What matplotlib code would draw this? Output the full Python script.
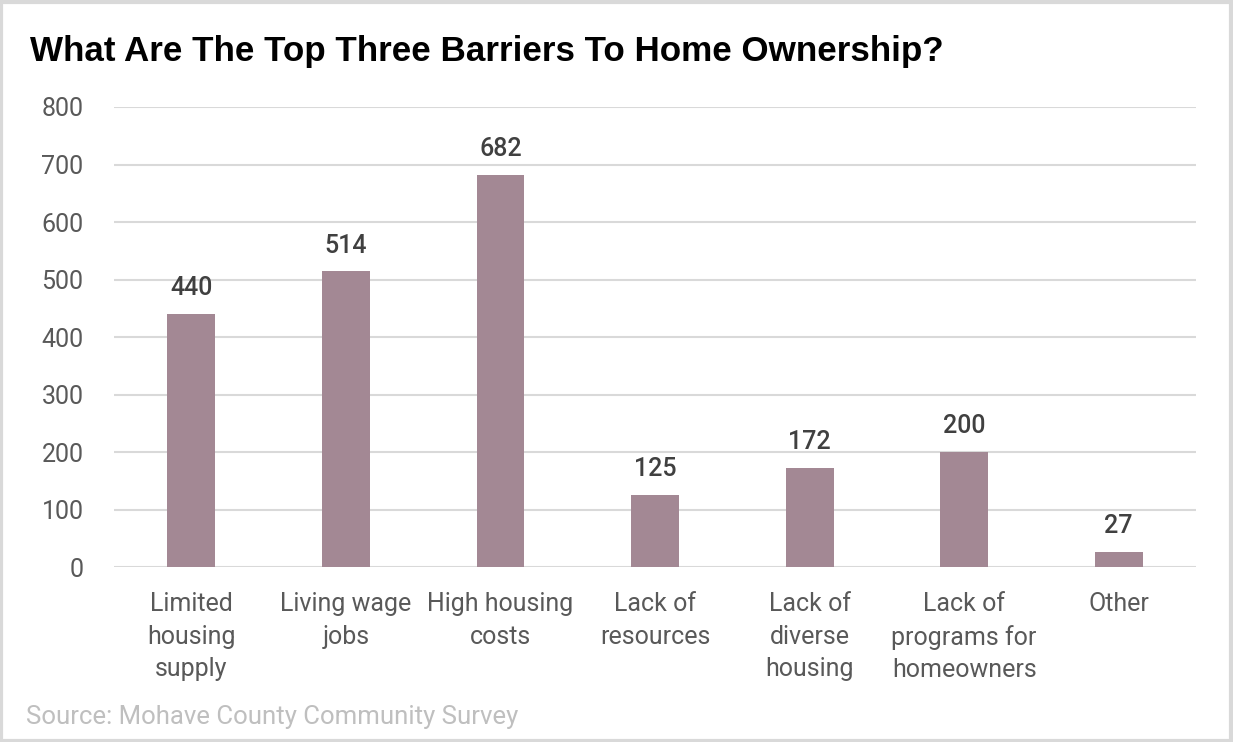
import matplotlib
matplotlib.use("Agg")
import matplotlib.pyplot as plt
from matplotlib.patches import Rectangle

categories = ["Limited\nhousing\nsupply", "Living wage\njobs", "High housing\ncosts",
              "Lack of\nresources", "Lack of\ndiverse\nhousing", "Lack of\nprograms for\nhomeowners", "Other"]
values = [440, 514, 682, 125, 172, 200, 27]
yticks = [0, 100, 200, 300, 400, 500, 600, 700, 800]

narrow = "Roboto"

fig = plt.figure(figsize=(12.33, 7.42), dpi=100)
ax = fig.add_axes([0.0925, 0.2358, 0.8775, 0.62])

x = list(range(len(categories)))
ax.bar(x, values, width=0.31, color="#A38894", zorder=3)
ax.set_xlim(-0.5, len(categories) - 0.5)
ax.set_ylim(0, 800)
ax.set_yticks(yticks)
ax.set_yticklabels([str(t) for t in yticks], fontsize=18, color="#595959", family=narrow)
ax.set_xticks(x)
ax.set_xticklabels(categories, fontsize=18, color="#595959", family=narrow, linespacing=1.45)
ax.tick_params(axis="both", length=0)
ax.tick_params(axis="y", pad=22)
ax.tick_params(axis="x", pad=18)
ax.grid(axis="y", color="#D9D9D9", linewidth=1.5, zorder=0)
for s in ax.spines.values():
    s.set_visible(False)

for xi, v in zip(x, values):
    ax.annotate(str(v), (xi, v), xytext=(0, 10), textcoords="offset points",
                ha="center", va="bottom", fontsize=18, color="#404040", family=narrow,
                fontweight="medium")

fig.text(0.024, 0.931, "What Are The Top Three Barriers To Home Ownership?", fontsize=25.2,
         fontweight="bold", family="Liberation Sans", color="#000000", va="center")
fig.text(0.021, 0.034, "Source: Mohave County Community Survey", fontsize=18.5,
         family=narrow, color="#BFBFBF", va="center")

fig.patches.append(Rectangle((0.001, 0.002), 0.997, 0.995, transform=fig.transFigure,
                             fill=False, edgecolor="#D9D9D9", linewidth=3))

fig.savefig("out.png", dpi=100)
